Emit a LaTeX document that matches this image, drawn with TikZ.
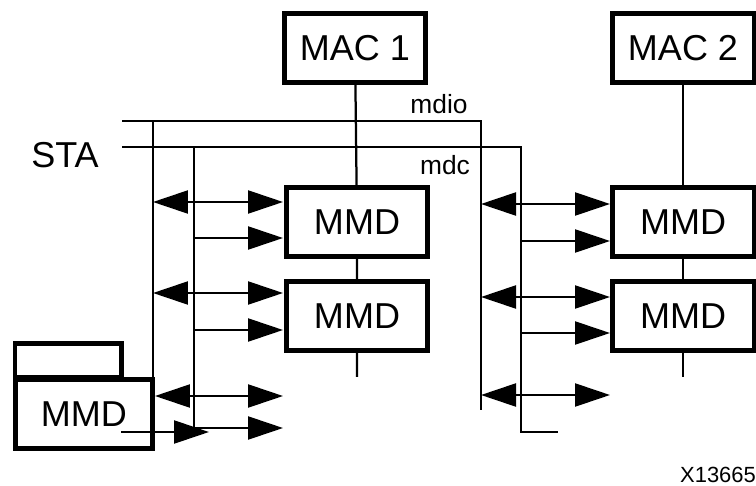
\documentclass[tikz,border=0pt]{standalone}
\usepackage{fontspec}
\setmainfont{Liberation Sans}
\usetikzlibrary{arrows.meta}

\begin{document}
\begin{tikzpicture}[x=0.02cm, y=-0.02cm, >={Triangle[length=0.7cm, width=0.46cm]},
    unit/.style={draw, line width=0.1cm, minimum width=2.84cm, minimum height=1.38cm,
                 inner sep=0pt, font=\fontsize{20.5}{24}\selectfont},
    bus/.style={line width=0.045cm},
    sig/.style={font=\fontsize{15}{18}\selectfont}]

\useasboundingbox (0, 0) rectangle (756, 486);

% MACs and MMDs
\node[unit] (mac1) at (355, 48) {MAC 1};
\node[unit] (mac2) at (683, 48) {MAC 2};
\node[unit] (mmd1) at (357, 222) {MMD};
\node[unit] (mmd2) at (357, 316) {MMD};
\node[unit] (mmd3) at (683, 222) {MMD};
\node[unit] (mmd4) at (683, 316) {MMD};

% Station MMD (lower left)
\draw[line width=0.1cm] (15, 377) rectangle (121, 343);
\node[unit, minimum width=2.74cm, minimum height=1.4cm] (mmd0) at (84, 414) {MMD};

% Labels
\node (sta) at (65, 155) {\fontsize{20.5}{24}\selectfont STA};
\node[sig] (mdio) at (439, 104) {mdio};
\node[sig] (mdc) at (445, 165) {mdc};
\node[font=\fontsize{12.5}{15}\selectfont] (code) at (718, 475) {X13665};

% Buses
\coordinate (mdioL) at (122, 121);
\coordinate (mdcL) at (122, 147);
\coordinate (mdioR) at (481, 121);
\coordinate (mdcR) at (521, 147);
\draw[bus] (mdioL) -- (mdioR) -- (481, 410);
\draw[bus] (mdcL) -- (mdcR) -- (521, 432) -- (558, 432);
\draw[bus] (153, 121) -- (mmd0.north -| 153, 0);
\draw[bus] (194, 147) -- (194, 428);

% MDIO chain
\draw[bus] (mac1) -- (mmd1) -- (mmd2) -- (mmd2.south) -- ++(0, 24);
\draw[bus] (mac2) -- (mmd3) -- (mmd4) -- (mmd4.south) -- ++(0, 24);

% Left taps
\foreach \y/\x/\tip in {202/153/<->, 238/194/->, 293/153/<->, 330/194/->} {
    \draw[bus, \tip] (\x, \y) -- (283, \y);
}
\draw[bus, <->] (mmd0.east |- 0, 396) -- (283, 396);
\draw[bus, ->] (194, 428) -- (283, 428);
\draw[bus, ->] (121, 432) -- (209, 432);

% Right taps
\foreach \y/\x/\tip in {204/481/<->, 241/521/->, 297/481/<->, 333/521/->, 395/481/<->} {
    \draw[bus, \tip] (\x, \y) -- (610, \y);
}

\end{tikzpicture}
\end{document}
